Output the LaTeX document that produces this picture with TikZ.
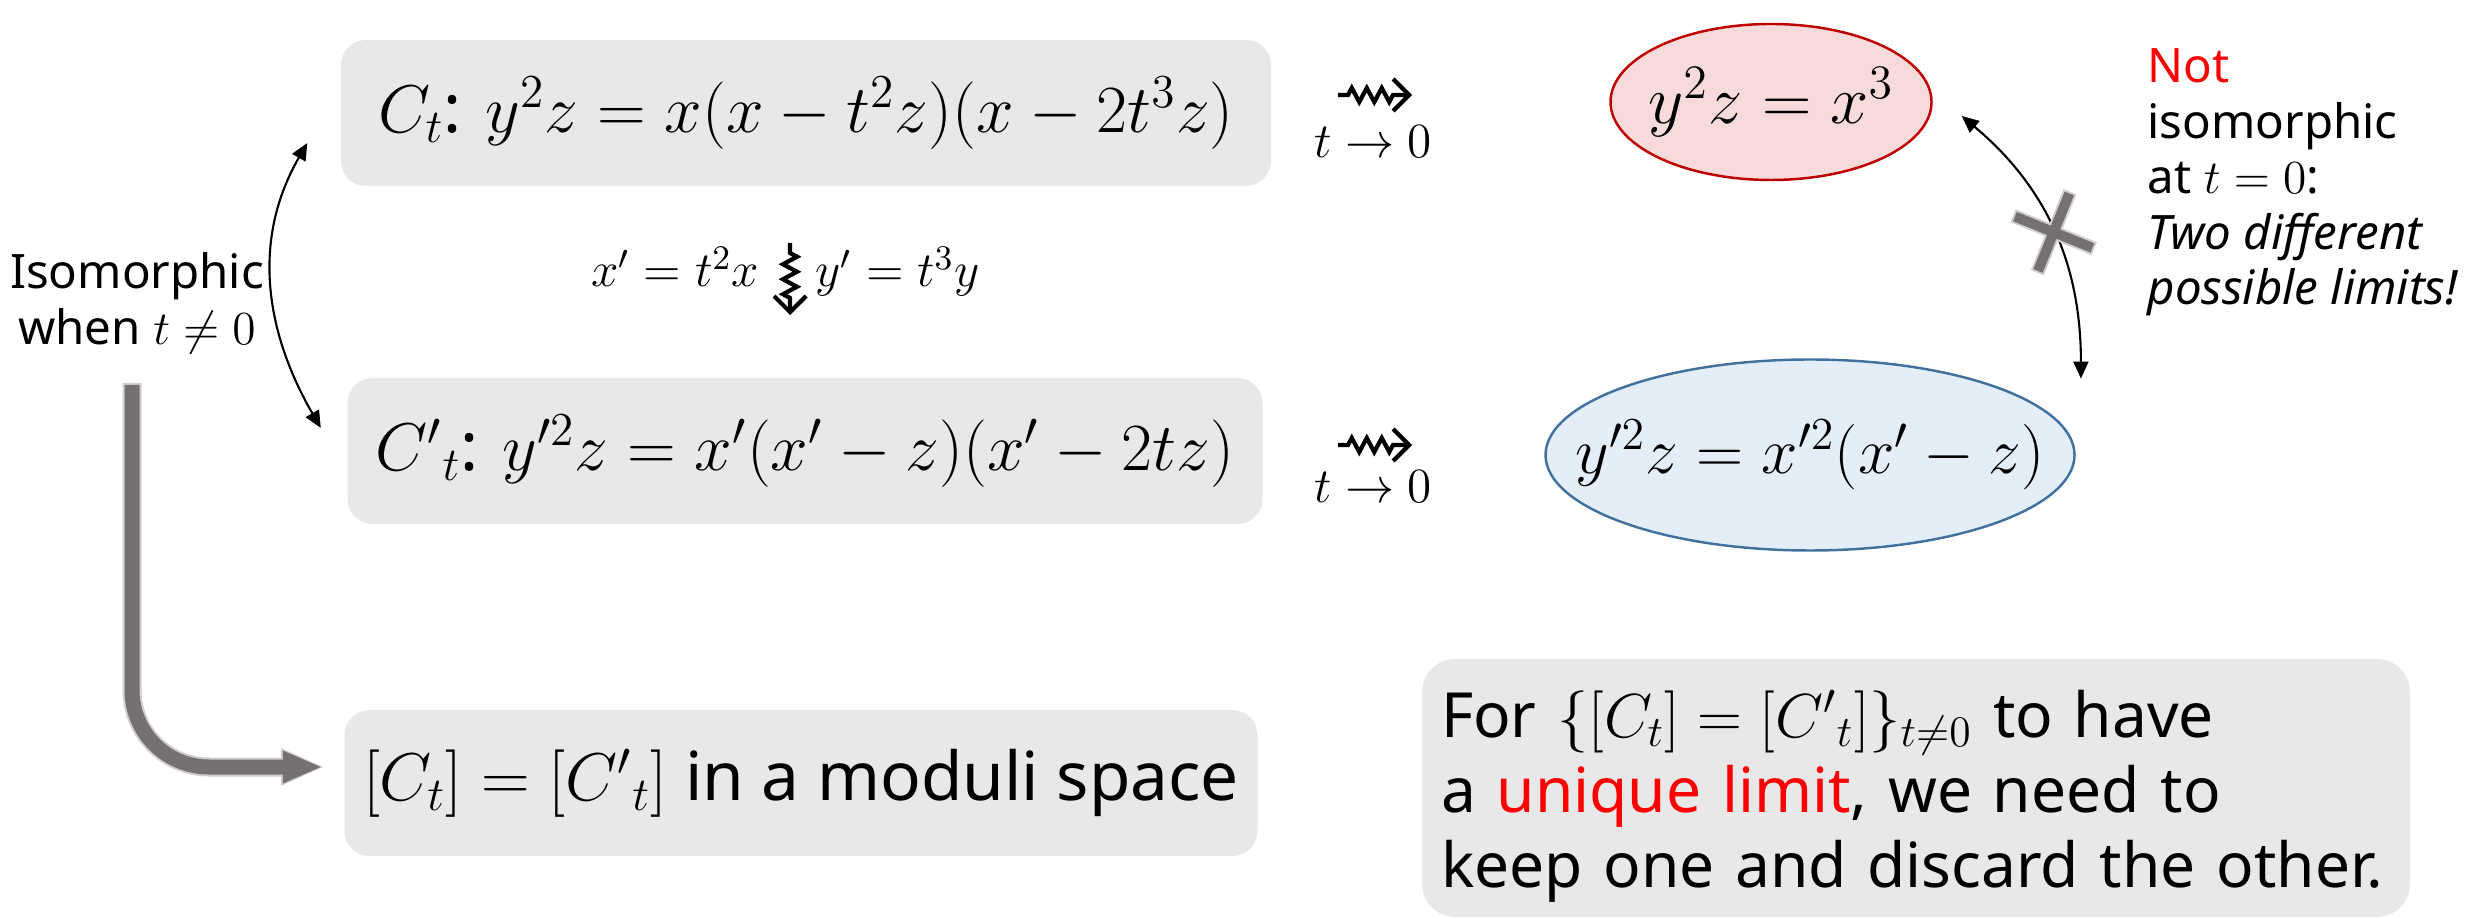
\RequirePackage{fix-cm}
\documentclass[tikz,border=0pt]{standalone}
\usepackage[no-math]{fontspec}
\setmainfont{Noto Sans}
\usetikzlibrary{arrows.meta,positioning,decorations.pathmorphing,shapes.geometric,shapes.misc}
\definecolor{boxgray}{HTML}{E8E8E8}
\definecolor{cuspred}{HTML}{C00000}
\definecolor{cuspfill}{HTML}{F7DADA}
\definecolor{nodeblue}{HTML}{41719C}
\definecolor{nodefill}{HTML}{E4EEF8}
\definecolor{arrowgray}{HTML}{767171}
\definecolor{edgegray}{HTML}{D0CECE}
\definecolor{hired}{HTML}{FF0000}
\newcommand{\eqsize}{\fontsize{19.2}{23}\selectfont}
\newcommand{\smallmath}{\fontsize{14}{17}\selectfont}
\newcommand{\notesize}{\fontsize{13.5}{15.8}\selectfont}
\newcommand{\bigsize}{\fontsize{17.7}{21.3}\selectfont}

\begin{document}
\begin{tikzpicture}[x=1cm,y=1cm,>=Stealth,
  eqbox/.style={fill=boxgray,rounded corners=0.25cm,align=center,minimum height=1.46cm,font=\eqsize},
  cuspell/.style={ellipse,draw=cuspred,fill=cuspfill,line width=0.7pt,minimum width=3.21cm,minimum height=1.56cm,
    inner xsep=-0.15cm,inner ysep=0pt,font=\fontsize{19.5}{23}\selectfont},
  nodeell/.style={ellipse,draw=nodeblue,fill=nodefill,line width=0.7pt,minimum width=5.29cm,minimum height=1.91cm,
    inner xsep=-0.55cm,inner ysep=0pt,font=\fontsize{18.6}{22}\selectfont},
  note/.style={inner sep=0pt,font=\notesize},
  bigbox/.style={fill=boxgray,rounded corners=0.33cm,align=left,text width=9.5cm,inner xsep=0.19cm,minimum height=2.58cm,font=\bigsize},
  squig/.style={line width=1.2pt,-{Straight Barb[length=0.16cm,width=0.32cm]},decorate,
    decoration={zigzag,amplitude=0.07cm,segment length=0.15cm,pre length=0.1cm,post length=0.16cm}},
  dblarrow/.style={{Triangle[length=0.17cm,width=0.15cm]}-{Triangle[length=0.17cm,width=0.15cm]},line width=0.6pt},
  bent/.style={draw=arrowgray,line width=0.15cm,rounded corners=0.77cm,
    -{Triangle[length=0.38cm,width=0.33cm,line width=0pt]},shorten >=0.23cm},
  bentedge/.style={draw=edgegray,line width=0.19cm,rounded corners=0.77cm,
    -{Triangle[length=0.42cm,width=0.38cm,line width=0pt]},shorten >=0.21cm,shorten <=-0.02cm},
  crossmark/.style={cross out,draw=arrowgray,line width=0.1cm,line cap=rect,minimum size=0.42cm,inner sep=0pt,rotate=23,
    preaction={draw=edgegray,line width=0.14cm,line cap=rect}}]
\useasboundingbox (0,0) rectangle (24.78,-9.19);

% the two families
\node[eqbox,minimum width=9.30cm] (ct) at (8.06,-1.13) {$C_t$: $y^2z=x(x-t^2z)(x-2t^3z)$};
\node[eqbox,minimum width=9.15cm] (ctp) at (8.05,-4.51) {$C'{}_t$: $y'^2z=x'(x'-z)(x'-2tz)$};
\node[eqbox,minimum width=9.13cm] (moduli) at (8.01,-7.83) {$[C_t]=[C'{}_t]$ in a moduli space};

% limits at t=0
\node[cuspell] (cusp) at (17.71,-1.02) {$y^2z=x^3$};
\node[nodeell] (nodal) at (18.10,-4.55) {$y'^2z=x'^2(x'-z)$};

% notes
\node[note,anchor=north,align=center] (iso) at (1.37,-2.52) {Isomorphic\\when $t\neq0$};
\node[note,anchor=north west,align=left] (notiso) at (21.47,-0.48)
  {\textcolor{hired}{Not}\\isomorphic\\at $t=0$:\\\textit{Two different}\\\textit{possible limits!}};
\node[bigbox] (unique) at (19.16,-7.88)
  {\rule{0pt}{18pt}For $\{[C_t]=[C'{}_t]\}_{t\neq0}$ to have\\a \textcolor{hired}{unique limit}, we need to\\keep one and discard the other.};

% change of variables
\node[inner sep=0pt,font=\smallmath,anchor=base east] (xsub) at (7.60,-2.87) {$x'=t^2x$};
\node[inner sep=0pt,font=\smallmath,anchor=base west] (ysub) at (8.15,-2.87) {$y'=t^3y$};
\coordinate (subtop) at (7.90,-2.43);
\coordinate (subbot) at (7.90,-3.15);
\draw[squig] (subtop)--(subbot);

% t -> 0
\coordinate (sqa) at (13.38,-0.95);
\coordinate (sqb) at (14.12,-0.95);
\coordinate (sqc) at (13.38,-4.45);
\coordinate (sqd) at (14.12,-4.45);
\draw[squig] (sqa)--(sqb);
\draw[squig] (sqc)--(sqd);
\node[inner sep=0pt,font=\smallmath] (lima) at (13.73,-1.42) {$t\to0$};
\node[inner sep=0pt,font=\smallmath] (limb) at (13.73,-4.87) {$t\to0$};

% isomorphisms
\draw[dblarrow] ([xshift=-0.33cm,yshift=-0.30cm]ct.west) to[out=240,in=120] ([xshift=-0.26cm,yshift=0.23cm]ctp.west);
\draw[dblarrow] ([xshift=0.29cm,yshift=-0.14cm]cusp.east) to[out=-40,in=90] node[crossmark] (nocross) {}
  ([xshift=0.83cm,yshift=0.08cm]nodal.north east);

% to the moduli space
\coordinate (bendstart) at (1.32,-3.85);
\draw[bentedge] (bendstart) |- ([yshift=0.16cm]moduli.west);
\draw[bent] (bendstart) |- ([yshift=0.16cm]moduli.west);
\end{tikzpicture}
\end{document}
